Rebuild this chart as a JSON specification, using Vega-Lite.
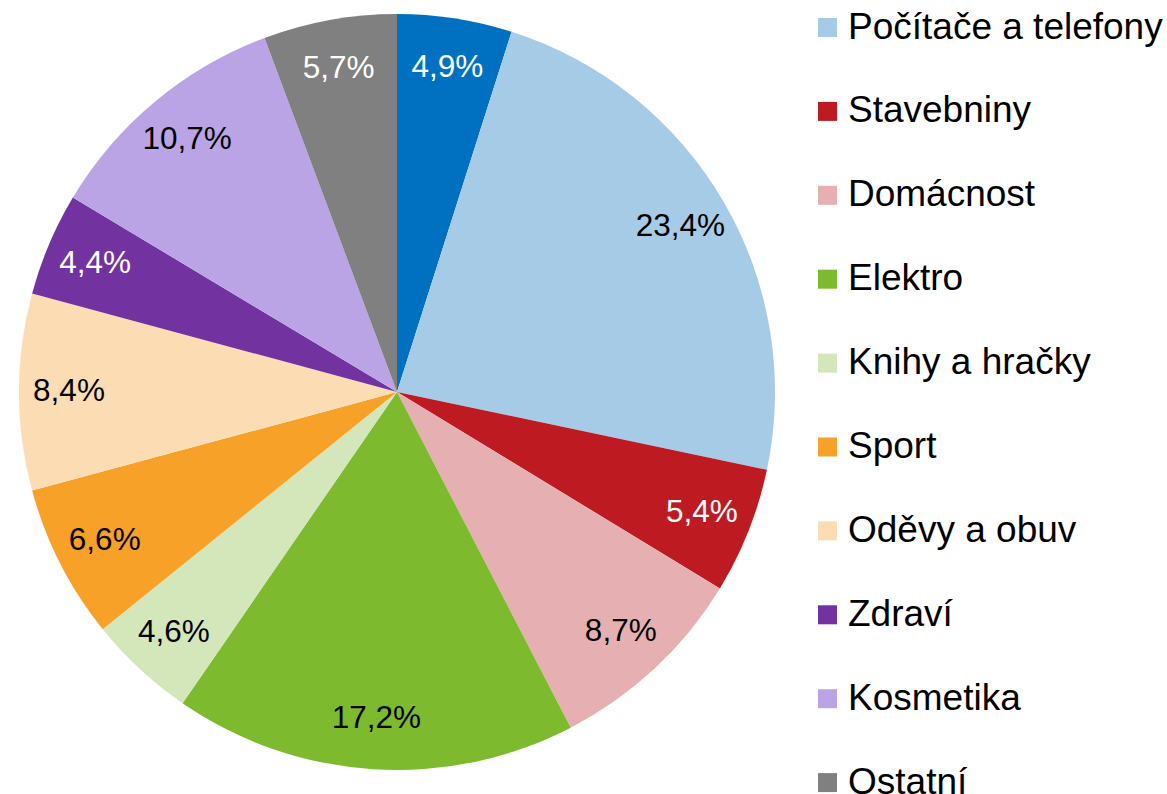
{
  "$schema": "https://vega.github.io/schema/vega-lite/v6.json",
  "autosize": {"type": "none"},
  "width": 794,
  "height": 784,
  "padding": {"left": 0, "top": 0, "right": 373, "bottom": 10},
  "background": "white",
  "config": {
    "view": {"stroke": null},
    "font": "Liberation Sans",
    "locale": {
      "number": {"decimal": ",", "thousands": " ", "grouping": [3], "currency": ["", " Kč"]}
    }
  },
  "data": {
    "values": [
      {"poradi": 1, "kategorie": "Auto-moto", "podil": 0.049},
      {"poradi": 2, "kategorie": "Počítače a telefony", "podil": 0.234},
      {"poradi": 3, "kategorie": "Stavebniny", "podil": 0.054},
      {"poradi": 4, "kategorie": "Domácnost", "podil": 0.087},
      {"poradi": 5, "kategorie": "Elektro", "podil": 0.172},
      {"poradi": 6, "kategorie": "Knihy a hračky", "podil": 0.046},
      {"poradi": 7, "kategorie": "Sport", "podil": 0.066},
      {"poradi": 8, "kategorie": "Oděvy a obuv", "podil": 0.084},
      {"poradi": 9, "kategorie": "Zdraví", "podil": 0.044},
      {"poradi": 10, "kategorie": "Kosmetika", "podil": 0.107},
      {"poradi": 11, "kategorie": "Ostatní", "podil": 0.057}
    ]
  },
  "encoding": {
    "theta": {"field": "podil", "type": "quantitative", "stack": true},
    "order": {"field": "poradi", "type": "quantitative", "sort": "ascending"}
  },
  "layer": [
    {
      "mark": {"type": "arc", "outerRadius": 378, "stroke": null},
      "encoding": {
        "color": {
          "field": "kategorie",
          "type": "nominal",
          "scale": {
            "domain": ["Auto-moto", "Počítače a telefony", "Stavebniny", "Domácnost", "Elektro", "Knihy a hračky", "Sport", "Oděvy a obuv", "Zdraví", "Kosmetika", "Ostatní"],
            "range": ["#0070C0", "#A6CBE6", "#BE1A22", "#E6B0B3", "#7DBA2D", "#D3E7BB", "#F7A128", "#FCDDB3", "#7232A0", "#BBA4E6", "#808080"]
          },
          "legend": {
            "title": null,
            "values": ["Počítače a telefony", "Stavebniny", "Domácnost", "Elektro", "Knihy a hračky", "Sport", "Oděvy a obuv", "Zdraví", "Kosmetika", "Ostatní"],
            "orient": "none",
            "legendX": 809,
            "legendY": 9,
            "symbolType": "square",
            "symbolSize": 361,
            "symbolStrokeWidth": 0,
            "symbolOpacity": 1,
            "labelFont": "Liberation Sans",
            "labelFontSize": 37,
            "labelColor": "black",
            "labelLimit": 500,
            "labelOffset": 2,
            "rowPadding": 45.9,
            "padding": 0
          }
        }
      }
    },
    {
      "mark": {"type": "text", "radius": 328, "fontSize": 31.5, "font": "Liberation Sans", "align": "center", "baseline": "middle"},
      "encoding": {
        "text": {"field": "podil", "type": "quantitative", "format": ".1%"},
        "color": {
          "condition": {"test": "indexof(['Auto-moto','Stavebniny','Zdraví','Ostatní'], datum.kategorie) >= 0", "value": "white"},
          "value": "black"
        }
      }
    }
  ]
}
